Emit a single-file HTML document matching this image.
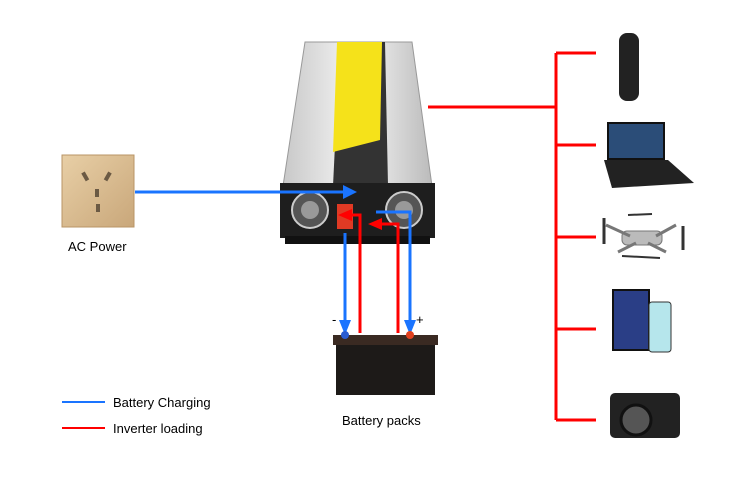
<!DOCTYPE html>
<html><head><style>
body{margin:0;background:#fff;font-family:"Liberation Sans",Arial,sans-serif;}
</style></head><body>
<svg width="750" height="472" viewBox="0 0 750 472" xmlns="http://www.w3.org/2000/svg">
<defs>
<linearGradient id="al" x1="0" x2="1"><stop offset="0" stop-color="#c8c8c8"/><stop offset=".5" stop-color="#f6f6f6"/><stop offset="1" stop-color="#bbb"/></linearGradient>
<linearGradient id="tan" x1="0" y1="0" x2="1" y2="1"><stop offset="0" stop-color="#e8cfa6"/><stop offset="1" stop-color="#c9a77a"/></linearGradient>
</defs>
<!-- outlet -->
<rect x="62" y="155" width="72" height="72" fill="url(#tan)" stroke="#b99466"/>
<rect x="83" y="172" width="4" height="9" fill="#6b5a44" transform="rotate(-30 85 176)"/>
<rect x="106" y="172" width="4" height="9" fill="#6b5a44" transform="rotate(30 108 176)"/>
<rect x="95" y="189" width="4" height="8" fill="#6b5a44"/>
<rect x="96" y="204" width="4" height="8" fill="#6b5a44"/>
<text x="68" y="251" font-size="13">AC Power</text>
<!-- inverter -->
<polygon points="305,42 412,42 432,186 283,186" fill="url(#al)" stroke="#999"/>
<polygon points="340,42 385,42 388,186 333,186" fill="#333"/>
<polygon points="337,42 382,42 380,140 333,152" fill="#f5e21a"/>
<rect x="280" y="183" width="155" height="55" fill="#1e1e1e"/>
<rect x="285" y="236" width="145" height="8" fill="#111"/>
<circle cx="310" cy="210" r="18" fill="#555" stroke="#ccc" stroke-width="2"/>
<circle cx="310" cy="210" r="9" fill="#999"/>
<circle cx="404" cy="210" r="18" fill="#555" stroke="#ccc" stroke-width="2"/>
<circle cx="404" cy="210" r="9" fill="#999"/>
<rect x="337" y="204" width="16" height="25" fill="#e03a24"/>
<!-- red output -->
<g stroke="#f00" stroke-width="3" fill="none">
<path d="M428 107H556M556 53V420M556 53H596M556 145H596M556 237H596M556 329H596M556 420H596"/>
<path d="M360 333V215H346M398 333V224H376"/>
</g>
<polygon points="338,215 352,209 352,221" fill="#f00"/>
<polygon points="368,224 382,218 382,230" fill="#f00"/>
<!-- blue -->
<g stroke="#1a74ff" stroke-width="3" fill="none">
<path d="M135 192H345M345 233V322M376 212H410V322"/>
</g>
<polygon points="357,192 343,185 343,199" fill="#1a74ff"/>
<polygon points="345,335 339,320 351,320" fill="#1a74ff"/>
<polygon points="410,335 404,320 416,320" fill="#1a74ff"/>
<!-- battery -->
<rect x="333" y="335" width="105" height="10" fill="#3a2a22"/>
<rect x="336" y="345" width="99" height="50" fill="#1d1a18"/>
<circle cx="345" cy="335" r="4" fill="#2a5cd0"/>
<circle cx="410" cy="335" r="4" fill="#e0401e"/>
<text x="332" y="324" font-size="13">-</text>
<text x="416" y="324" font-size="13">+</text>
<text x="342" y="425" font-size="13">Battery packs</text>
<!-- devices -->
<rect x="619" y="33" width="20" height="68" rx="8" fill="#222"/>
<rect x="608" y="123" width="56" height="36" fill="#2b4d78" stroke="#111" stroke-width="2"/>
<polygon points="604,160 668,160 694,183 612,188" fill="#222"/>
<g fill="#bbb" stroke="#777">
<rect x="622" y="231" width="40" height="14" rx="5"/>
<line x1="606" y1="225" x2="630" y2="236" stroke-width="3"/>
<line x1="676" y1="225" x2="656" y2="236" stroke-width="3"/>
<line x1="618" y1="252" x2="636" y2="243" stroke-width="3"/>
<line x1="666" y1="252" x2="648" y2="243" stroke-width="3"/>
</g>
<line x1="604" y1="218" x2="604" y2="244" stroke="#333" stroke-width="3"/>
<line x1="683" y1="226" x2="683" y2="250" stroke="#333" stroke-width="3"/>
<line x1="628" y1="215" x2="652" y2="214" stroke="#333" stroke-width="2"/>
<line x1="622" y1="256" x2="660" y2="258" stroke="#333" stroke-width="2"/>
<rect x="613" y="290" width="36" height="60" fill="#2a3e86" stroke="#111" stroke-width="2"/>
<rect x="649" y="302" width="22" height="50" rx="3" fill="#b6e6ec" stroke="#333"/>
<rect x="610" y="393" width="70" height="45" rx="5" fill="#222"/>
<circle cx="636" cy="420" r="15" fill="#555" stroke="#111" stroke-width="3"/>
<!-- legend -->
<line x1="62" y1="402" x2="105" y2="402" stroke="#1a74ff" stroke-width="2"/>
<line x1="62" y1="428" x2="105" y2="428" stroke="#f00" stroke-width="2"/>
<text x="113" y="407" font-size="13">Battery Charging</text>
<text x="113" y="433" font-size="13">Inverter loading</text>
</svg>
</body></html>
